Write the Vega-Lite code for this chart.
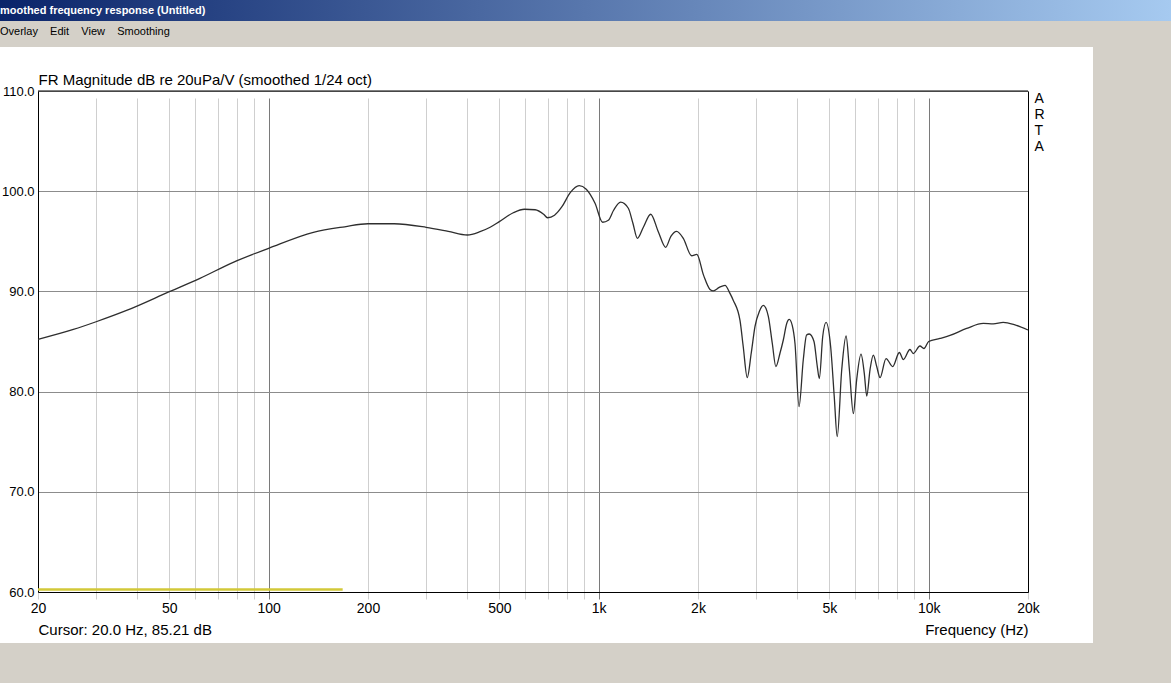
{
  "$schema": "https://vega.github.io/schema/vega-lite/v6.json",
  "autosize": {"type": "pad"},
  "padding": {"left": 0, "top": 0, "right": 0, "bottom": 40},
  "background": "#d4d0c8",
  "bounds": "flush",
  "spacing": 26,
  "config": {
    "font": "Liberation Sans",
    "view": {"fill": "white", "stroke": null}
  },
  "datasets": {
    "fr": [
      {"f": 20, "db": 85.21}, {"f": 25.6, "db": 86.2}, {"f": 30, "db": 86.97}, {"f": 37.1, "db": 88.1},
      {"f": 50, "db": 89.97}, {"f": 61.9, "db": 91.3}, {"f": 78.1, "db": 92.9}, {"f": 100, "db": 94.3},
      {"f": 136.6, "db": 95.9}, {"f": 170, "db": 96.45}, {"f": 200, "db": 96.75}, {"f": 240, "db": 96.75},
      {"f": 300, "db": 96.4}, {"f": 350, "db": 96.0}, {"f": 400, "db": 95.63}, {"f": 437, "db": 95.96},
      {"f": 469, "db": 96.4}, {"f": 500, "db": 96.96}, {"f": 551, "db": 97.85}, {"f": 596, "db": 98.2},
      {"f": 642, "db": 98.15}, {"f": 681, "db": 97.7}, {"f": 700, "db": 97.35}, {"f": 735, "db": 97.6},
      {"f": 774, "db": 98.45}, {"f": 820, "db": 99.85}, {"f": 873, "db": 100.55}, {"f": 917, "db": 100.2},
      {"f": 975, "db": 98.8}, {"f": 1028, "db": 96.9}, {"f": 1070, "db": 97.1}, {"f": 1110, "db": 98.1},
      {"f": 1165, "db": 98.9}, {"f": 1230, "db": 98.3}, {"f": 1270, "db": 96.8}, {"f": 1310, "db": 95.3},
      {"f": 1366, "db": 96.4}, {"f": 1438, "db": 97.7}, {"f": 1516, "db": 95.96}, {"f": 1596, "db": 94.4},
      {"f": 1655, "db": 95.5}, {"f": 1723, "db": 96.0}, {"f": 1805, "db": 95.3}, {"f": 1913, "db": 93.56},
      {"f": 1983, "db": 93.7}, {"f": 2080, "db": 91.6}, {"f": 2175, "db": 90.2}, {"f": 2226, "db": 90.05},
      {"f": 2320, "db": 90.4}, {"f": 2415, "db": 90.6}, {"f": 2500, "db": 89.8}, {"f": 2559, "db": 89.1},
      {"f": 2681, "db": 87.1}, {"f": 2742, "db": 84.5}, {"f": 2820, "db": 81.4}, {"f": 2900, "db": 83.85},
      {"f": 2977, "db": 86.5}, {"f": 3068, "db": 88.0}, {"f": 3156, "db": 88.6}, {"f": 3267, "db": 87.5},
      {"f": 3359, "db": 84.8}, {"f": 3444, "db": 82.5}, {"f": 3545, "db": 83.85}, {"f": 3627, "db": 85.15},
      {"f": 3714, "db": 86.8}, {"f": 3781, "db": 87.2}, {"f": 3860, "db": 86.6}, {"f": 3935, "db": 84.8},
      {"f": 4047, "db": 78.5}, {"f": 4170, "db": 83.2}, {"f": 4267, "db": 85.65}, {"f": 4347, "db": 85.75},
      {"f": 4493, "db": 85.0}, {"f": 4598, "db": 82.5}, {"f": 4663, "db": 81.3}, {"f": 4775, "db": 85.5},
      {"f": 4887, "db": 86.9}, {"f": 5046, "db": 84.5}, {"f": 5175, "db": 79.5}, {"f": 5283, "db": 75.5},
      {"f": 5453, "db": 82.2}, {"f": 5620, "db": 85.55}, {"f": 5751, "db": 82.2}, {"f": 5913, "db": 77.8},
      {"f": 6052, "db": 81.2}, {"f": 6238, "db": 83.75}, {"f": 6383, "db": 81.8}, {"f": 6491, "db": 79.56},
      {"f": 6643, "db": 82.2}, {"f": 6797, "db": 83.65}, {"f": 6960, "db": 82.5}, {"f": 7123, "db": 81.4},
      {"f": 7427, "db": 83.3}, {"f": 7781, "db": 82.5}, {"f": 8150, "db": 83.9}, {"f": 8380, "db": 83.2},
      {"f": 8777, "db": 84.2}, {"f": 8983, "db": 83.8}, {"f": 9410, "db": 84.55}, {"f": 9676, "db": 84.3},
      {"f": 10000, "db": 85.0}, {"f": 10820, "db": 85.3}, {"f": 11604, "db": 85.6}, {"f": 13040, "db": 86.3},
      {"f": 14646, "db": 86.8}, {"f": 15700, "db": 86.75}, {"f": 16830, "db": 86.9}, {"f": 18260, "db": 86.65},
      {"f": 20000, "db": 86.15}
    ],
    "band": [
      {"f": 20, "db": 60.25}, {"f": 167.6, "db": 60.25}
    ]
  },
  "vconcat": [
    {
      "width": 1171,
      "height": 21,
      "data": {"values": []},
      "mark": {"type": "rule"},
      "encoding": {},
      "view": {
        "stroke": null,
        "fill": {"expr": "{gradient: 'linear', x1: 0, y1: 0, x2: 1, y2: 0, stops: [{offset: 0, color: '#0a246a'}, {offset: 1, color: '#a6caf0'}]}"}
      },
      "title": {
        "text": "moothed frequency response (Untitled)",
        "anchor": "start",
        "orient": "top",
        "frame": "group",
        "fontSize": 11,
        "fontWeight": "bold",
        "color": "#ffffff",
        "offset": -16
      }
    },
    {
      "width": 1093,
      "height": 596,
      "title": {
        "text": "Overlay\u00a0\u00a0\u00a0 Edit\u00a0\u00a0\u00a0 View\u00a0\u00a0\u00a0 Smoothing",
        "anchor": "start",
        "orient": "top",
        "frame": "group",
        "fontSize": 11,
        "fontWeight": "normal",
        "color": "#000000",
        "offset": 10
      },
      "layer": [
        {
          "data": {"name": "fr"},
          "mark": {"type": "line", "color": "#2e2e2e", "strokeWidth": 1.3, "interpolate": "monotone"},
          "encoding": {
            "x": {
              "field": "f", "type": "quantitative",
              "scale": {"type": "log", "domain": [20, 20000], "range": [38, 1028], "nice": false},
              "axis": {
                "orient": "bottom", "offset": -51,
                "values": [20, 30, 40, 50, 60, 70, 80, 90, 100, 200, 300, 400, 500, 600, 700, 800, 900, 1000, 2000, 3000, 4000, 5000, 6000, 7000, 8000, 9000, 10000, 20000],
                "labelExpr": "indexof([20,50,100,200,500,1000,2000,5000,10000,20000], datum.value) >= 0 ? (datum.value >= 1000 ? (datum.value / 1000) + 'k' : '' + datum.value) : ''",
                "ticks": false, "labelPadding": 9, "labelFontSize": 14, "labelColor": "#000000",
                "labelFlush": false, "labelOverlap": false,
                "domain": true, "domainColor": "#000000",
                "grid": true, "gridOpacity": 1, "gridWidth": 1,
                "gridColor": {"condition": {"test": "datum.value === 100 || datum.value === 1000 || datum.value === 10000", "value": "#7a7a7a"}, "value": "#cfcfcf"},
                "title": "Frequency (Hz)", "titleAnchor": "end", "titleAlign": "right",
                "titleFontSize": 15, "titleFontWeight": "normal", "titleColor": "#000000", "titlePadding": 7
              }
            },
            "y": {
              "field": "db", "type": "quantitative",
              "scale": {"domain": [60, 110], "range": [545, 44], "nice": false, "zero": false},
              "axis": {
                "orient": "left", "offset": -38,
                "values": [60, 70, 80, 90, 100, 110], "format": ".1f",
                "ticks": false, "labelPadding": 4, "labelFontSize": 13, "labelColor": "#000000", "labelFlush": false,
                "domain": true, "domainColor": "#000000",
                "grid": true, "gridColor": "#8c8c8c", "gridOpacity": 1,
                "title": null
              }
            }
          }
        },
        {
          "data": {"name": "band"},
          "mark": {"type": "line", "color": "#d2c838", "strokeWidth": 2.5},
          "encoding": {
            "x": {
              "field": "f", "type": "quantitative",
              "scale": {"type": "log", "domain": [20, 20000], "range": [38, 1028], "nice": false},
              "axis": {
                "orient": "bottom", "offset": -51,
                "labels": false, "ticks": false, "domain": false, "grid": false,
                "title": "Cursor: 20.0 Hz, 85.21 dB", "titleAnchor": "start", "titleAlign": "left",
                "titleFontSize": 15, "titleFontWeight": "normal", "titleColor": "#000000", "titlePadding": 30
              }
            },
            "y": {
              "field": "db", "type": "quantitative",
              "scale": {"domain": [60, 110], "range": [545, 44], "nice": false, "zero": false},
              "axis": {
                "orient": "right", "offset": -65,
                "labels": false, "ticks": false, "grid": false,
                "domain": true, "domainColor": "#000000",
                "title": ["A", "R", "T", "A"], "titleAngle": 0, "titleAnchor": "end",
                "titleAlign": "left", "titleBaseline": "top", "titleX": 6,
                "titleFontSize": 14, "titleFontWeight": "normal", "titleColor": "#000000",
                "titleLineHeight": 16, "titlePadding": 6
              }
            }
          }
        },
        {
          "data": {"values": [{}]},
          "mark": {"type": "rule", "color": "#000000", "strokeWidth": 1},
          "encoding": {
            "x": {
              "datum": 20, "type": "quantitative",
              "scale": {"type": "log", "domain": [20, 20000], "range": [38, 1028], "nice": false},
              "axis": {
                "orient": "top", "offset": -44,
                "labels": false, "ticks": false, "domain": false, "grid": false,
                "title": "FR Magnitude dB re 20uPa/V (smoothed 1/24 oct)", "titleAnchor": "start", "titleAlign": "left",
                "titleFontSize": 15, "titleFontWeight": "normal", "titleColor": "#000000", "titlePadding": 4
              }
            },
            "x2": {"datum": 20000},
            "y": {
              "datum": 110, "type": "quantitative",
              "scale": {"domain": [60, 110], "range": [545, 44], "nice": false, "zero": false},
              "axis": null
            }
          }
        }
      ],
      "resolve": {"axis": {"x": "independent", "y": "independent"}}
    }
  ]
}
